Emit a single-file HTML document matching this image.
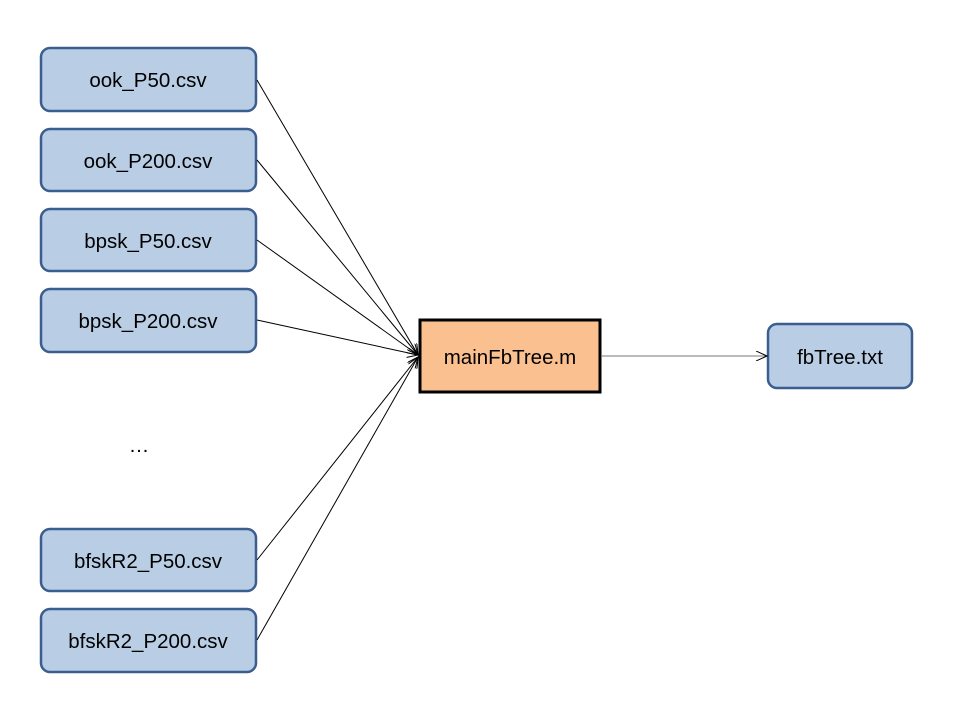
<!DOCTYPE html>
<html><head><style>body{margin:0;background:#fff}</style></head><body>
<svg width="960" height="720" xmlns="http://www.w3.org/2000/svg" font-family="Liberation Sans, sans-serif" font-size="20.5">
<defs><marker id="a" markerWidth="12" markerHeight="10" refX="11" refY="5" orient="auto" markerUnits="userSpaceOnUse"><path d="M0,0 L11,5 L0,10" fill="none" stroke="#000" stroke-width="1"/></marker></defs>
<g fill="#b9cde5" stroke="#3a5f8f" stroke-width="2.5">
<rect x="41" y="48" width="215" height="63" rx="9"/>
<rect x="41" y="129" width="215" height="62" rx="9"/>
<rect x="41" y="209" width="215" height="62" rx="9"/>
<rect x="41" y="289" width="215" height="63" rx="9"/>
<rect x="41" y="529" width="215" height="62" rx="9"/>
<rect x="41" y="609" width="215" height="63" rx="9"/>
<rect x="768" y="324" width="144" height="64" rx="9"/>
</g>
<rect x="420" y="320" width="180" height="72" fill="#fac090" stroke="#000" stroke-width="3"/>
<g stroke="#000" stroke-width="1" fill="none">
<line x1="257" y1="80" x2="418" y2="355" marker-end="url(#a)"/>
<line x1="257" y1="160" x2="418" y2="355" marker-end="url(#a)"/>
<line x1="257" y1="240" x2="418" y2="355" marker-end="url(#a)"/>
<line x1="257" y1="320" x2="418" y2="355" marker-end="url(#a)"/>
<line x1="257" y1="560" x2="418" y2="357" marker-end="url(#a)"/>
<line x1="257" y1="640" x2="418" y2="357" marker-end="url(#a)"/>
<line x1="601" y1="356" x2="767" y2="356" stroke="#777" marker-end="url(#a)"/>
</g>
<g text-anchor="middle" fill="#000">
<text x="148" y="87">ook_P50.csv</text>
<text x="148" y="168">ook_P200.csv</text>
<text x="148" y="248">bpsk_P50.csv</text>
<text x="148" y="328">bpsk_P200.csv</text>
<text x="139" y="452">…</text>
<text x="148" y="568">bfskR2_P50.csv</text>
<text x="148" y="648">bfskR2_P200.csv</text>
<text x="510" y="364">mainFbTree.m</text>
<text x="840" y="364">fbTree.txt</text>
</g>
</svg>
</body></html>
